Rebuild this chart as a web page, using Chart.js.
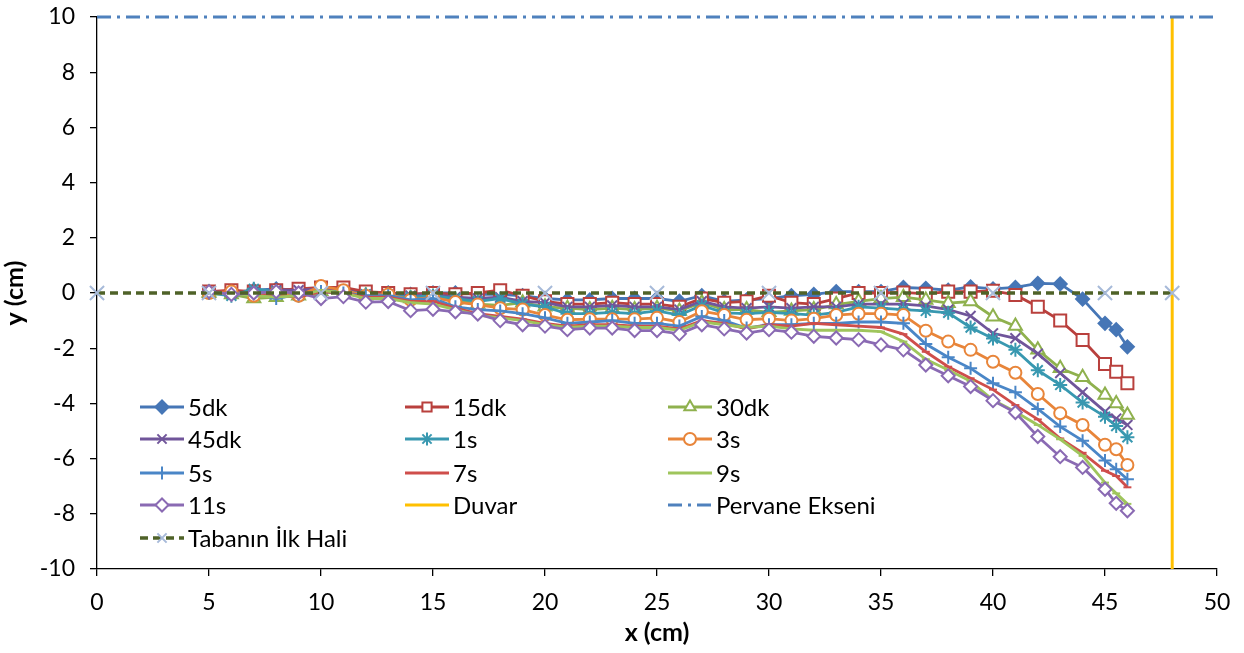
<!DOCTYPE html>
<html>
<head>
<meta charset="utf-8">
<script src="https://cdn.jsdelivr.net/npm/chart.js"></script>
<style>
  html, body { margin: 0; padding: 0; background: #fff; }
  #wrap { position: relative; width: 1244px; height: 653px; }
</style>
</head>
<body>
<div id="wrap"><canvas id="profil"></canvas></div>
<script>
// x konumları (cm)
const xKonum = [5, 6, 7, 8, 9, 10, 11, 12, 13, 14, 15, 16, 17, 18, 19, 20, 21, 22, 23, 24, 25,
    26, 27, 28, 29, 30, 31, 32, 33, 34, 35, 36, 37, 38, 39, 40, 41, 42, 43, 44, 45, 45.5, 46];

// taban profilleri (cm)
const y5dk = [0.05, 0.0, 0.1, 0.15, 0.1, 0.15, 0.1, 0.0, 0.0, -0.05, 0.0, 0.0, -0.05, -0.05, -0.1, -0.2, -0.25,
    -0.25, -0.2, -0.2, -0.2, -0.3, -0.1, -0.3, -0.25, -0.2, -0.1, -0.05, 0.05, 0.05, 0.05, 0.2, 0.17, 0.1, 0.22,
    0.15, 0.2, 0.35, 0.33, -0.22, -1.1, -1.33, -1.95];
const y15dk = [0.05, 0.1, 0.05, 0.1, 0.15, 0.2, 0.2, 0.05, 0.0, -0.05, 0.0, -0.05, 0.0, 0.1, -0.1, -0.3, -0.4,
    -0.4, -0.35, -0.4, -0.4, -0.5, -0.2, -0.35, -0.3, -0.1, -0.35, -0.4, -0.2, 0.0, 0.0, 0.02, -0.03, 0.05, 0.05,
    0.08, -0.07, -0.5, -1.0, -1.7, -2.57, -2.85, -3.27];
const y30dk = [0.0, -0.05, -0.2, -0.15, -0.1, 0.05, 0.0, -0.1, -0.1, -0.2, -0.15, -0.25, -0.4, -0.45, -0.35, -0.5,
    -0.55, -0.6, -0.55, -0.6, -0.55, -0.65, -0.35, -0.6, -0.6, -0.7, -0.65, -0.6, -0.42, -0.3, -0.2, -0.15, -0.25,
    -0.37, -0.31, -0.86, -1.2, -2.06, -2.73, -3.05, -3.7, -4.0, -4.42];
const y45dk = [0.05, 0.0, 0.05, 0.1, 0.1, 0.15, 0.1, -0.05, -0.05, -0.1, -0.05, -0.15, -0.2, -0.15, -0.3, -0.35,
    -0.5, -0.5, -0.45, -0.5, -0.5, -0.6, -0.3, -0.5, -0.55, -0.5, -0.55, -0.5, -0.5, -0.4, -0.4, -0.4, -0.47, -0.6,
    -0.83, -1.46, -1.64, -2.2, -2.9, -3.6, -4.3, -4.55, -4.78];
const y1s = [0.0, -0.1, 0.15, 0.05, -0.1, 0.05, 0.05, -0.05, -0.1, -0.15, -0.1, -0.2, -0.3, -0.2, -0.4, -0.5,
    -0.75, -0.75, -0.7, -0.75, -0.65, -0.8, -0.45, -0.72, -0.75, -0.7, -0.75, -0.8, -0.7, -0.5, -0.55, -0.6, -0.65,
    -0.72, -1.25, -1.65, -2.06, -2.8, -3.33, -3.97, -4.48, -4.82, -5.23];
const y3s = [0.0, 0.05, -0.1, 0.0, -0.1, 0.25, 0.1, -0.1, -0.05, -0.25, -0.15, -0.33, -0.42, -0.55, -0.6, -0.8,
    -0.97, -0.95, -0.95, -0.95, -0.9, -1.05, -0.66, -0.8, -0.97, -0.93, -1.0, -0.93, -0.8, -0.75, -0.75, -0.8,
    -1.37, -1.76, -2.06, -2.49, -2.89, -3.66, -4.36, -4.78, -5.5, -5.66, -6.23];
const y5s = [0.0, -0.05, 0.0, -0.2, -0.05, 0.05, 0.0, -0.1, -0.1, -0.25, -0.2, -0.5, -0.6, -0.65, -0.75, -0.9,
    -1.1, -1.05, -1.0, -1.1, -1.1, -1.2, -0.85, -1.0, -1.27, -1.15, -1.15, -1.1, -1.1, -1.05, -1.05, -1.1, -1.85,
    -2.33, -2.73, -3.27, -3.6, -4.2, -4.84, -5.35, -6.07, -6.39, -6.75];
const y7s = [0.0, 0.0, -0.05, -0.1, -0.15, 0.05, 0.0, -0.15, -0.15, -0.3, -0.3, -0.55, -0.75, -0.85, -0.95, -1.1,
    -1.2, -1.15, -1.15, -1.2, -1.2, -1.3, -1.0, -1.1, -1.3, -1.15, -1.2, -1.1, -1.15, -1.2, -1.25, -1.49, -2.13,
    -2.67, -3.09, -3.5, -4.06, -4.58, -5.27, -5.79, -6.44, -6.63, -7.04];
const y9s = [-0.05, 0.0, -0.1, -0.15, -0.1, 0.1, 0.0, -0.2, -0.2, -0.35, -0.4, -0.6, -0.8, -0.9, -1.0, -1.15,
    -1.25, -1.2, -1.2, -1.25, -1.25, -1.35, -1.05, -1.15, -1.25, -1.2, -1.3, -1.35, -1.35, -1.35, -1.4, -1.76,
    -2.4, -2.79, -3.2, -3.88, -4.3, -4.78, -5.3, -5.9, -6.87, -7.26, -7.64];
const y11s = [0.05, -0.05, 0.0, 0.05, 0.0, -0.2, -0.13, -0.33, -0.31, -0.64, -0.59, -0.68, -0.76, -1.0, -1.15,
    -1.2, -1.33, -1.27, -1.27, -1.36, -1.36, -1.48, -1.15, -1.3, -1.45, -1.33, -1.42, -1.57, -1.63, -1.69, -1.88,
    -2.06, -2.61, -3.0, -3.39, -3.9, -4.33, -5.2, -5.93, -6.32, -7.11, -7.62, -7.89];

// sabit çizgiler
const duvarX = [48, 48];
const duvarY = [-10, 10];
const pervaneX = [0, 50];
const pervaneY = [10, 10];
const tabanX = [0, 5, 10, 15, 20, 25, 30, 35, 40, 45, 48];
const tabanY = [0, 0, 0, 0, 0, 0, 0, 0, 0, 0, 0];

// eksen işaretleri
const xTikler = [0, 5, 10, 15, 20, 25, 30, 35, 40, 45, 50];
const yTikler = [-10, -8, -6, -4, -2, 0, 2, 4, 6, 8, 10];

const FONT = 'Lato, "Noto Sans", sans-serif';

function noktalar(xs, ys) {
    return xs.map((x, i) => ({ x: x, y: ys[i] }));
}

function seri(ad, ys, renk, stil, r, dolu) {
    return {
        label: ad,
        data: noktalar(xKonum, ys),
        borderColor: renk,
        borderWidth: 2.8,
        pointStyle: stil,
        pointRadius: r,
        pointBorderColor: renk,
        pointBackgroundColor: dolu ? renk : '#ffffff',
        pointBorderWidth: 2,
        tension: 0
    };
}

const seriler = [
    seri('5dk', y5dk, '#4676b6', 'rectRot', 6.5, true),
    seri('15dk', y15dk, '#b9403d', 'rect', 8.5, false),
    seri('30dk', y30dk, '#8fb14e', 'triangle', 7.5, false),
    seri('45dk', y45dk, '#70559a', 'crossRot', 7, false),
    seri('1s', y1s, '#3898b0', 'star', 7, false),
    seri('3s', y3s, '#e8853a', 'circle', 6, false),
    seri('5s', y5s, '#4a86c7', 'cross', 6.5, false),
    seri('7s', y7s, '#cf4e4b', 'line', 4, false),
    seri('9s', y9s, '#9fc55c', 'line', 4, false),
    seri('11s', y11s, '#8a6ab3', 'rectRot', 6.5, false),
    {
        label: 'Duvar',
        data: noktalar(duvarX, duvarY),
        borderColor: '#ffc000',
        borderWidth: 3,
        pointRadius: 0,
        pointStyle: false,
        clip: false
    },
    {
        label: 'Pervane Ekseni',
        data: noktalar(pervaneX, pervaneY),
        borderColor: '#4f81bd',
        borderWidth: 3,
        borderDash: [14, 6, 3, 6],
        pointRadius: 0,
        pointStyle: false,
        clip: false
    },
    {
        label: 'Tabanın İlk Hali',
        data: noktalar(tabanX, tabanY),
        borderColor: '#4f6228',
        borderWidth: 3.5,
        borderDash: [8, 5],
        pointStyle: 'crossRot',
        pointRadius: 10,
        pointBorderColor: '#a7bad9',
        pointBackgroundColor: '#a7bad9',
        pointBorderWidth: 2,
        clip: false
    }
];

// Excel gibi sonraki seri üstte çizilsin
seriler.forEach((d, i) => { d.order = seriler.length - i; });

// grafik alanı içindeki 3 sütunlu lejant
const icLejant = {
    id: 'icLejant',
    afterDatasetsDraw(chart) {
        const ctx = chart.ctx;
        const sutunX = [140, 405, 668];
        const satirY = [407, 439, 473, 505, 538];
        ctx.save();
        chart.data.datasets.forEach((d, i) => {
            const x0 = sutunX[i % 3];
            const y0 = satirY[Math.floor(i / 3)];
            ctx.setLineDash(d.borderDash || []);
            ctx.strokeStyle = d.borderColor;
            ctx.lineWidth = d.borderWidth;
            ctx.beginPath();
            ctx.moveTo(x0, y0);
            ctx.lineTo(x0 + 44, y0);
            ctx.stroke();
            ctx.setLineDash([]);
            if (d.pointStyle) {
                ctx.strokeStyle = d.pointBorderColor;
                ctx.fillStyle = d.pointBackgroundColor;
                ctx.lineWidth = d.pointBorderWidth;
                Chart.helpers.drawPoint(ctx, {
                    pointStyle: d.pointStyle,
                    radius: Math.min(d.pointRadius, 6.5),
                    rotation: 0,
                    borderWidth: d.pointBorderWidth
                }, x0 + 22, y0);
            }
            ctx.fillStyle = '#000';
            ctx.font = '24px ' + FONT;
            ctx.textBaseline = 'middle';
            ctx.textAlign = 'left';
            ctx.fillText(d.label, x0 + 48, y0 + 1);
        });
        ctx.restore();
    }
};

new Chart(document.getElementById('profil'), {
    type: 'line',
    data: { datasets: seriler },
    plugins: [icLejant],
    options: {
        responsive: true,
        maintainAspectRatio: false,
        animation: false,
        layout: { padding: { top: 17, right: 27, left: 0, bottom: 0 } },
        plugins: {
            legend: { display: false },
            tooltip: { enabled: false }
        },
        scales: {
            x: {
                type: 'linear',
                min: 0,
                max: 50,
                afterBuildTicks: (s) => { s.ticks = xTikler.map(v => ({ value: v })); },
                afterFit: (s) => { s.height = 84; s.paddingLeft = 0; s.paddingRight = 0; },
                ticks: { color: '#000', font: { family: FONT, size: 23 }, padding: 13, maxRotation: 0 },
                grid: { drawOnChartArea: false, drawTicks: true, tickLength: 7, color: '#000', lineWidth: 1.3 },
                border: { color: '#000', width: 1.3 },
                title: {
                    display: true,
                    text: 'x (cm)',
                    color: '#000',
                    font: { family: FONT, size: 25, weight: 'bold' },
                    padding: { top: 0, bottom: 5 }
                }
            },
            y: {
                type: 'linear',
                min: -10,
                max: 10,
                afterBuildTicks: (s) => { s.ticks = yTikler.map(v => ({ value: v })); },
                afterFit: (s) => { s.width = 97; s.paddingTop = 0; s.paddingBottom = 0; },
                ticks: { color: '#000', font: { family: FONT, size: 23 }, padding: 15 },
                grid: { drawOnChartArea: false, drawTicks: true, tickLength: 7, color: '#000', lineWidth: 1.3 },
                border: { color: '#000', width: 1.3 },
                title: {
                    display: true,
                    text: 'y (cm)',
                    color: '#000',
                    font: { family: FONT, size: 25, weight: 'bold' },
                    padding: { top: 0, bottom: 5 }
                }
            }
        }
    }
});
</script>
</body>
</html>
